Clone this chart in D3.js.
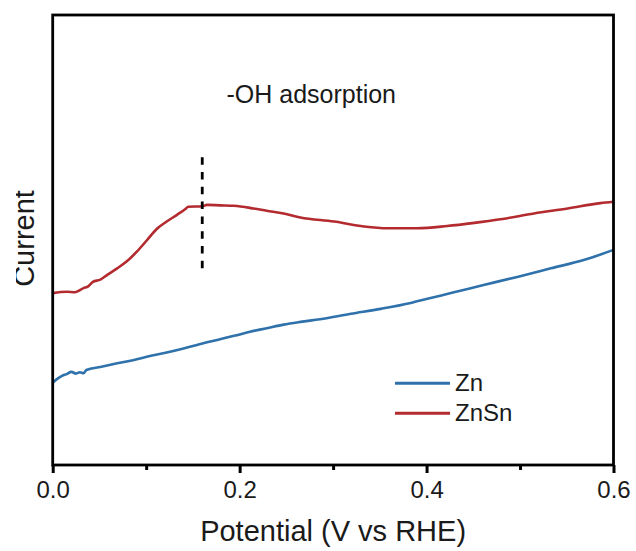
<!DOCTYPE html>
<html>
<head>
<meta charset="utf-8">
<script src="https://cdn.jsdelivr.net/npm/d3@7"></script>
<style>
  html, body { margin: 0; padding: 0; background: #fff; }
  svg { display: block; }
  text { font-family: "Liberation Sans", Arial, sans-serif; fill: #1a1a1a; }
</style>
</head>
<body>
<svg id="chart" width="636" height="551"></svg>
<script>
// Linear sweep, current in arbitrary units
const potentialZn = [0.000, 0.006, 0.010, 0.015, 0.020, 0.025, 0.029, 0.033, 0.036, 0.051, 0.069, 0.086, 0.104, 0.122, 0.140, 0.158, 0.176, 0.194, 0.211, 0.229, 0.247, 0.265, 0.286, 0.319, 0.351, 0.383, 0.402, 0.426, 0.461, 0.497, 0.533, 0.569, 0.600];
const currentZn   = [0.183, 0.193, 0.198, 0.202, 0.207, 0.203, 0.206, 0.204, 0.211, 0.218, 0.226, 0.233, 0.242, 0.250, 0.259, 0.269, 0.278, 0.287, 0.296, 0.304, 0.312, 0.318, 0.324, 0.336, 0.347, 0.360, 0.370, 0.382, 0.400, 0.418, 0.437, 0.456, 0.478];

const potentialZnSn = [0.000, 0.015, 0.024, 0.033, 0.038, 0.043, 0.051, 0.058, 0.069, 0.079, 0.090, 0.101, 0.111, 0.122, 0.133, 0.142, 0.145, 0.160, 0.165, 0.179, 0.194, 0.215, 0.229, 0.247, 0.265, 0.301, 0.333, 0.358, 0.390, 0.422, 0.451, 0.479, 0.515, 0.551, 0.586, 0.600];
const currentZnSn   = [0.382, 0.385, 0.384, 0.393, 0.397, 0.407, 0.412, 0.422, 0.437, 0.452, 0.474, 0.500, 0.524, 0.541, 0.556, 0.569, 0.574, 0.575, 0.578, 0.577, 0.576, 0.570, 0.565, 0.559, 0.550, 0.541, 0.530, 0.526, 0.526, 0.531, 0.538, 0.546, 0.559, 0.570, 0.582, 0.585];

const seriesNames  = ["Zn", "ZnSn"];
const seriesColors = ["#2f72ab", "#b32a2f"];

const xTicksMajor = [0, 0.2, 0.4, 0.6];
const xTicksMinor = [0.1, 0.3, 0.5];

const adsorptionPotential = 0.16;
const markerRange = [0.435, 0.684];

const svg = d3.select("#chart");
const plotLeft = 52.7, plotRight = 613.5, plotTop = 15, plotBottom = 465;

const x = d3.scaleLinear().domain([0, 0.6]).range([plotLeft, plotRight]);
const y = d3.scaleLinear().domain([0, 1]).range([plotBottom, plotTop]);

const line = d3.line()
  .x(d => x(d[0]))
  .y(d => y(d[1]))
  .curve(d3.curveMonotoneX);

// Curves
const curves = [
  d3.zip(potentialZn, currentZn),
  d3.zip(potentialZnSn, currentZnSn)
];
curves.forEach((pts, i) => {
  svg.append("path")
    .datum(pts)
    .attr("d", line)
    .attr("fill", "none")
    .attr("stroke", seriesColors[i])
    .attr("stroke-width", 2.6)
    .attr("stroke-linejoin", "round");
});

// Dashed marker at the -OH adsorption peak
svg.append("line")
  .attr("x1", x(adsorptionPotential)).attr("x2", x(adsorptionPotential))
  .attr("y1", y(markerRange[1])).attr("y2", y(markerRange[0]))
  .attr("stroke", "#000")
  .attr("stroke-width", 2.8)
  .attr("stroke-dasharray", "7.5 7.3");

svg.append("text")
  .attr("x", 226.5).attr("y", 103)
  .attr("font-size", 25)
  .text("-OH adsorption");

// Bottom axis: major and minor ticks
const axisMajor = d3.axisBottom(x).tickValues(xTicksMajor).tickSize(8).tickFormat(d3.format(".1f"));
const gMajor = svg.append("g").attr("transform", `translate(0,${plotBottom})`).call(axisMajor);
gMajor.select(".domain").remove();
gMajor.selectAll(".tick line").attr("stroke", "#000").attr("stroke-width", 3);
gMajor.selectAll(".tick text")
  .attr("y", 33).attr("dy", null)
  .attr("font-size", 24)
  .attr("font-family", "Liberation Sans, Arial, sans-serif")
  .attr("fill", "#1a1a1a");

const axisMinor = d3.axisBottom(x).tickValues(xTicksMinor).tickSize(5).tickFormat("");
const gMinor = svg.append("g").attr("transform", `translate(0,${plotBottom})`).call(axisMinor);
gMinor.select(".domain").remove();
gMinor.selectAll(".tick line").attr("stroke", "#000").attr("stroke-width", 3);

// Plot frame
svg.append("rect")
  .attr("x", plotLeft).attr("y", plotTop)
  .attr("width", plotRight - plotLeft).attr("height", plotBottom - plotTop)
  .attr("fill", "none")
  .attr("stroke", "#000")
  .attr("stroke-width", 2.8);

// Axis titles
svg.append("text")
  .attr("x", (plotLeft + plotRight) / 2).attr("y", 541)
  .attr("text-anchor", "middle")
  .attr("font-size", 29)
  .text("Potential (V vs RHE)");

svg.append("clipPath").attr("id", "ylabel-clip")
  .append("rect").attr("x", 16).attr("y", 0).attr("width", 40).attr("height", 551);

svg.append("g")
  .attr("clip-path", "url(#ylabel-clip)")
  .append("text")
  .attr("transform", "translate(34,238.5) rotate(-90)")
  .attr("text-anchor", "middle")
  .attr("font-size", 29)
  .text("Current");

// Legend
const legend = svg.append("g");
seriesNames.forEach((name, i) => {
  const ly = 383.3 + i * 30;
  legend.append("line")
    .attr("x1", 395).attr("x2", 450)
    .attr("y1", ly).attr("y2", ly)
    .attr("stroke", seriesColors[i])
    .attr("stroke-width", 3);
  legend.append("text")
    .attr("x", 455).attr("y", ly + 7.6)
    .attr("font-size", 24)
    .text(name);
});
</script>
</body>
</html>
